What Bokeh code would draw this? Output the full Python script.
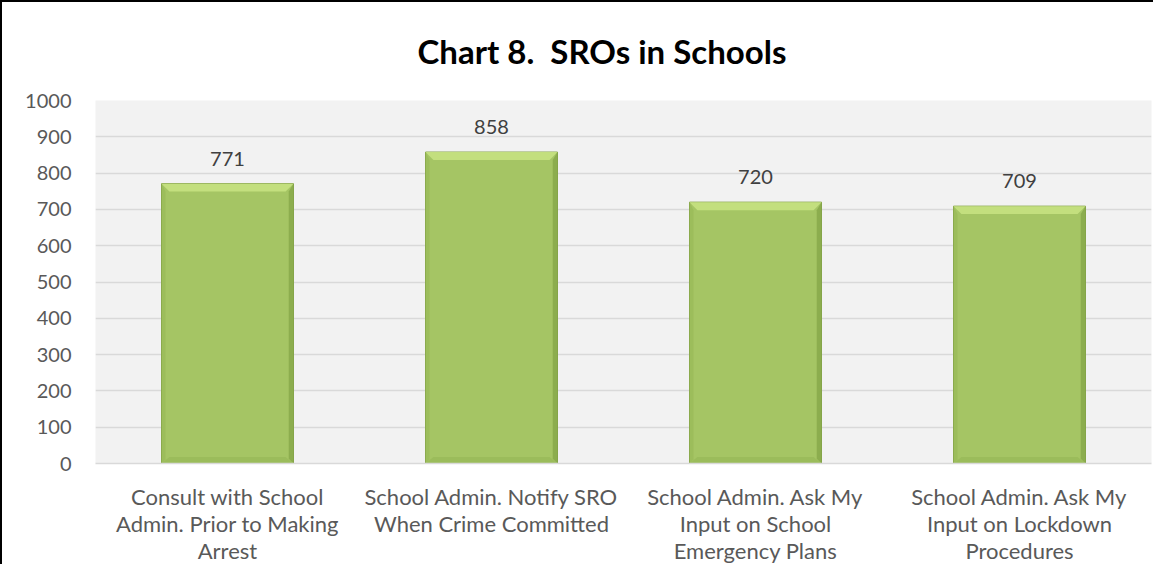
from bokeh.plotting import figure
from bokeh.models import ColumnDataSource, FactorRange, Range1d, LabelSet, FixedTicker
from bokeh.core.properties import value
from bokeh.embed import file_html
from bokeh.resources import INLINE

categories = [
    "Consult with School\nAdmin. Prior to Making\nArrest",
    "School Admin. Notify SRO\nWhen Crime Committed",
    "School Admin. Ask My\nInput on School\nEmergency Plans",
    "School Admin. Ask My\nInput on Lockdown\nProcedures",
]
values = [771, 858, 720, 709]
y_ticks = [0, 100, 200, 300, 400, 500, 600, 700, 800, 900, 1000]
title_text = "Chart 8.\u00a0 SROs in Schools"

FONT = "Lato"
BAR_W = 0.5

p = figure(
    x_range=FactorRange(factors=categories, range_padding=0),
    y_range=Range1d(0, 1000),
    width=1153, height=564,
    output_backend="svg", toolbar_location=None,
    min_border_left=93, min_border_right=4, min_border_top=98, min_border_bottom=103,
    background_fill_color="#F2F2F2", border_fill_color="white",
    outline_line_color=None,
    styles={"border-left": "2px solid black", "border-top": "2px solid black"},
)

p.title.text = title_text
p.title.text_font = FONT
p.title.text_font_size = "33px"
p.title.text_font_style = "bold"
p.title.text_color = "black"
p.title.align = "left"
p.title.offset = 322
p.title.vertical_align = "top"
p.title.standoff = 56

src = ColumnDataSource(dict(cat=categories, val=values, lbl=[str(v) for v in values]))

# main bar body
p.vbar(x="cat", top="val", bottom=0, width=BAR_W, source=src,
       fill_color="#A5C564", line_color="#86A34A", line_width=1)

# bevel facets computed from the data
dx, dy = 0.03, 22
h = BAR_W / 2
top_xs, top_ys, rt_xs, rt_ys, bt_xs, bt_ys, lf_xs, lf_ys = [], [], [], [], [], [], [], []
for c, v in zip(categories, values):
    top_xs.append([(c, -h), (c, h), (c, h - dx), (c, -h + dx)])
    top_ys.append([v, v, v - dy, v - dy])
    rt_xs.append([(c, h), (c, h), (c, h - dx * 0.6), (c, h - dx * 0.6)])
    rt_ys.append([v, 0, dy * 0.6, v - dy])
    lf_xs.append([(c, -h), (c, -h), (c, -h + dx * 0.5), (c, -h + dx * 0.5)])
    lf_ys.append([v, 0, dy * 0.5, v - dy])
    bt_xs.append([(c, -h), (c, h), (c, h - dx), (c, -h + dx)])
    bt_ys.append([0, 0, dy * 0.8, dy * 0.8])

p.patches(top_xs, top_ys, fill_color="#C4E07F", line_color=None, fill_alpha=0.95)
p.patches(rt_xs, rt_ys, fill_color="#86A648", line_color=None, fill_alpha=0.8)
p.patches(lf_xs, lf_ys, fill_color="#98B957", line_color=None, fill_alpha=0.7)
p.patches(bt_xs, bt_ys, fill_color="#98B959", line_color=None, fill_alpha=0.8)

labels = LabelSet(x="cat", y="val", text="lbl", source=src,
                  text_align="center", text_baseline="middle", y_offset=25,
                  text_font_size=value("20px"), text_color=value("#404040"),
                  text_font=value(FONT))
p.add_layout(labels)

# axes
p.yaxis.ticker = FixedTicker(ticks=y_ticks)
p.yaxis.axis_line_color = None
p.yaxis.major_tick_line_color = None
p.yaxis.minor_tick_line_color = None
p.yaxis.major_label_standoff = 18
p.yaxis.major_label_text_font = FONT
p.yaxis.major_label_text_font_size = "20px"
p.yaxis.major_label_text_color = "#595959"

p.xaxis.axis_line_color = "#D9D9D9"
p.xaxis.axis_line_width = 1.5
p.xaxis.major_tick_line_color = None
p.xaxis.minor_tick_line_color = None
p.xaxis.major_label_standoff = 13
p.xaxis.major_label_text_font = FONT
p.xaxis.major_label_text_font_size = "22px"
p.xaxis.major_label_text_color = "#595959"
p.xaxis.major_label_text_line_height = 1.0

p.xgrid.grid_line_color = None
p.ygrid.grid_line_color = "#D9D9D9"
p.ygrid.grid_line_width = 1.5

open("out.html", "w").write(file_html(p, INLINE))
